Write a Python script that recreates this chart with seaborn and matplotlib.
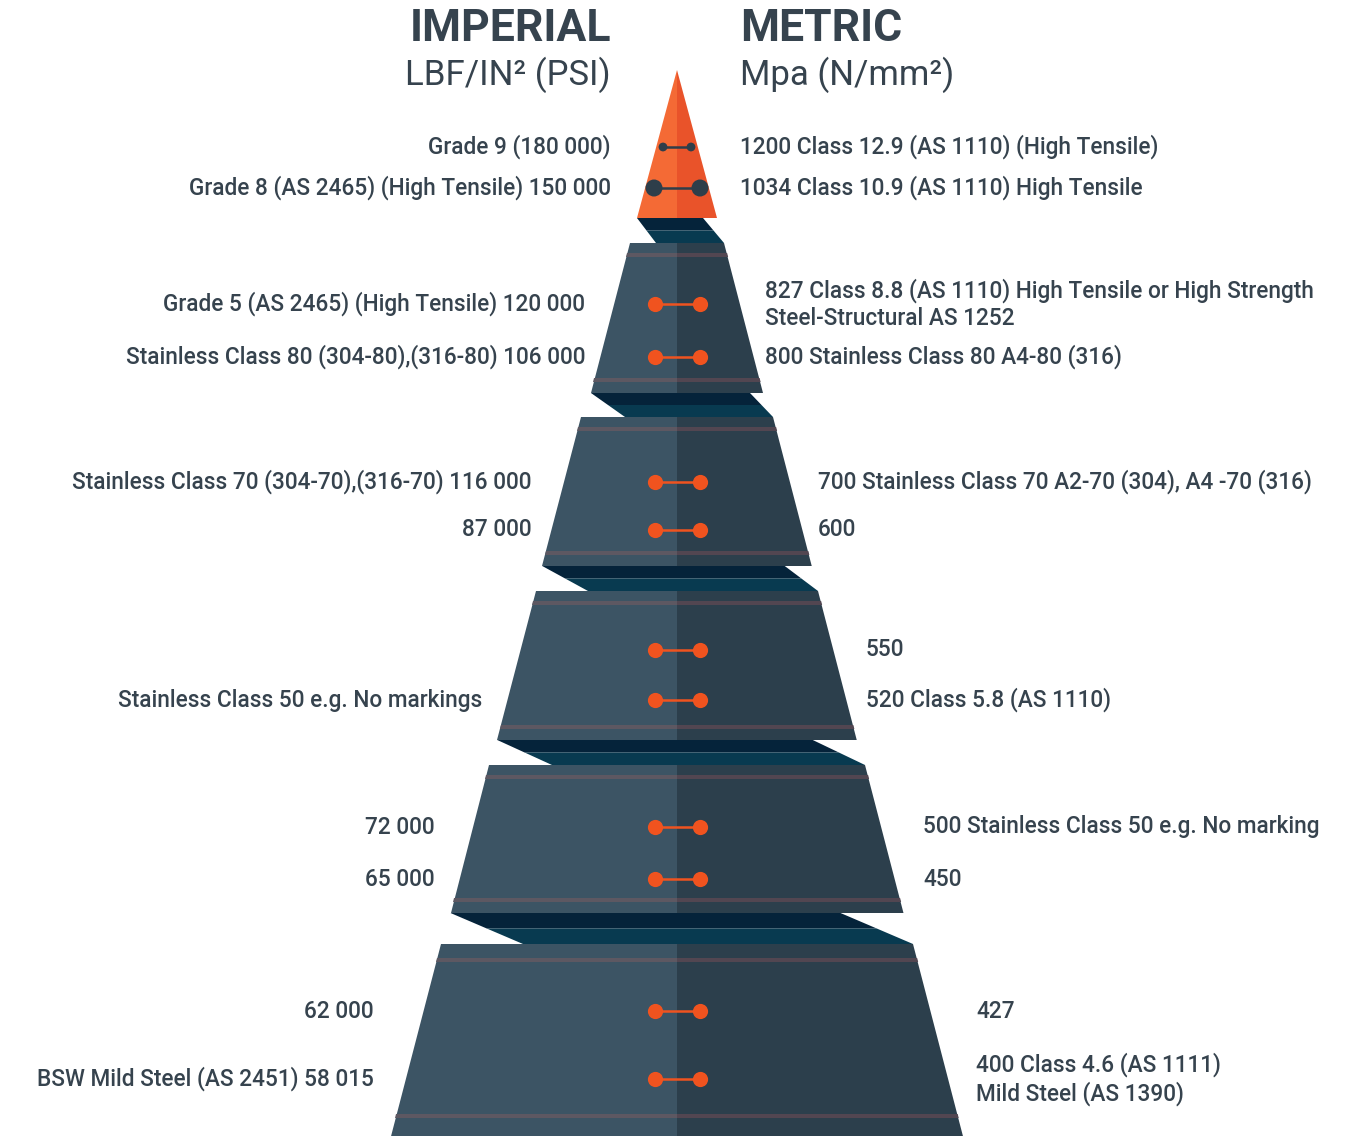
import pandas as pd
import matplotlib.pyplot as plt
import seaborn as sns

sns.set_style("white")
plt.rcParams['font.family'] = ['Roboto', 'DejaVu Sans']

# ============================================================
# DATA
# ============================================================
header_left = "IMPERIAL"
unit_left = "LBF/IN² (PSI)"
header_right = "METRIC"
unit_right = "Mpa (N/mm²)"

imperial_labels = [
    "Grade 9 (180 000)",
    "Grade 8 (AS 2465) (High Tensile) 150 000",
    "Grade 5 (AS 2465) (High Tensile) 120 000",
    "Stainless Class 80 (304-80),(316-80) 106 000",
    "Stainless Class 70 (304-70),(316-70) 116 000",
    "87 000",
    "",
    "Stainless Class 50 e.g. No markings",
    "72 000",
    "65 000",
    "62 000",
    "BSW Mild Steel (AS 2451) 58 015",
]
metric_labels = [
    "1200 Class 12.9 (AS 1110) (High Tensile)",
    "1034 Class 10.9 (AS 1110) High Tensile",
    "827 Class 8.8 (AS 1110) High Tensile or High Strength\nSteel-Structural AS 1252",
    "800 Stainless Class 80 A4-80 (316)",
    "700 Stainless Class 70 A2-70 (304), A4 -70 (316)",
    "600",
    "550",
    "520 Class 5.8 (AS 1110)",
    "500 Stainless Class 50 e.g. No marking",
    "450",
    "427",
    "400 Class 4.6 (AS 1111)\nMild Steel (AS 1390)",
]
row_tier = [0, 0, 1, 1, 2, 2, 3, 3, 4, 4, 5, 5]

# ============================================================
# LAYOUT (pixel space)
# ============================================================
W, H = 1367, 1136
CX = 677
SLOPE = 0.26
apex_y, cone_base_y, cone_half = 70, 218, 40
tier_top = [243, 417, 591, 765, 944]
tier_h = [150, 149, 149, 148, 200]
tier_half = [47, 96, 141, 188, 236]
conn_inset = [14, 13, 27, 44, 63]
conn_offset = [26, 44, 52, 63, 82]
row_offsets = [(77, 118), (61, 114), (65, 113), (59, 109), (62, 114), (67, 135)]
left_x = [611, 585, 532, 482, 435, 374]
right_x = [740, 765, 818, 866, 923, 976]

TEXT = "#36434e"
ORANGE = "#f0531f"
TIER_L, TIER_R = "#3c5464", "#2c3f4c"
STRIPE_L, STRIPE_R = "#5d5862", "#524651"
CONN_TOP, CONN_BOT = "#05233a", "#083a50"
LABEL_SIZE = 16.3

fig = plt.figure(figsize=(W / 100, H / 100), dpi=100)
ax = fig.add_axes([0, 0, 1, 1])

# cone
ax.fill([CX, CX - cone_half, CX], [apex_y, cone_base_y, cone_base_y], color="#f46a35", lw=0)
ax.fill([CX, CX, CX + cone_half], [apex_y, cone_base_y, cone_base_y], color="#e9532a", lw=0)

prev_bottom, prev_half = cone_base_y, cone_half
for i, (yt, h, hw) in enumerate(zip(tier_top, tier_h, tier_half)):
    yb = yt + h
    bw = hw + SLOPE * h
    # connector band
    tl = (CX - prev_half, prev_bottom)
    tr = (CX + prev_half - conn_inset[i], prev_bottom)
    br = (CX + hw, yt)
    bl = (CX - hw + conn_offset[i], yt)
    ym = (prev_bottom + yt) / 2
    ml = ((tl[0] + bl[0]) / 2, ym)
    mr = ((tr[0] + br[0]) / 2, ym)
    ax.fill([tl[0], tr[0], mr[0], ml[0]], [tl[1], tr[1], ym, ym], color=CONN_TOP, lw=0)
    ax.fill([ml[0], mr[0], br[0], bl[0]], [ym, ym, br[1], bl[1]], color=CONN_BOT, lw=0)
    # tier body
    ax.fill([CX - hw, CX, CX, CX - bw], [yt, yt, yb, yb], color=TIER_L, lw=0)
    ax.fill([CX, CX + hw, CX + bw, CX], [yt, yt, yb, yb], color=TIER_R, lw=0)
    # stripes
    stripe_at = [yt + 12, yb - 13] if i < 4 else [yt + 16, yt + 172]
    for ys in stripe_at:
        half = hw + SLOPE * (ys - yt)
        ax.fill([CX - half, CX, CX, CX - half - 1], [ys - 2, ys - 2, ys + 2, ys + 2], color=STRIPE_L, lw=0)
        ax.fill([CX, CX + half, CX + half + 1, CX], [ys - 2, ys - 2, ys + 2, ys + 2], color=STRIPE_R, lw=0)
    prev_bottom, prev_half = yb, bw

# rows: two per tier
row_y = []
for r, t in enumerate(row_tier):
    base = apex_y if t == 0 else tier_top[t - 1]
    row_y.append(base + row_offsets[t][r % 2])

dots = pd.DataFrame({
    "y": row_y * 2,
    "side": ["l"] * len(row_y) + ["r"] * len(row_y),
    "tier": row_tier * 2,
    "row": list(range(len(row_y))) * 2,
})
dots["x"] = [CX - 22.5 if s == "l" else CX + 22.5 for s in dots["side"]]
cone_dots = dots[dots["tier"] == 0].copy()
cone_dots["x"] = [CX - 14 if (s == "l" and r == 0) else CX + 14 if r == 0 else CX - 23 if s == "l" else CX + 23
                  for s, r in zip(cone_dots["side"], cone_dots["row"])]
tier_dots = dots[dots["tier"] > 0]

for r in range(len(row_y)):
    d = cone_dots if r < 2 else tier_dots
    seg = d[d["row"] == r]
    ax.plot(seg["x"], seg["y"], color="#2e3e4a" if r < 2 else ORANGE, lw=1.8, zorder=3)

sns.scatterplot(data=tier_dots, x="x", y="y", color=ORANGE, s=120, linewidth=0, ax=ax, zorder=4)
sns.scatterplot(data=cone_dots, x="x", y="y", size="row", sizes={0: 40, 1: 150},
                color="#2e3e4a", linewidth=0, ax=ax, zorder=4, legend=False)
ax.set_xlim(0, W)
ax.set_ylim(H, 0)
ax.axis("off")

# labels
for r, (lt, rt) in enumerate(zip(imperial_labels, metric_labels)):
    t = row_tier[r]
    ax.text(left_x[t], row_y[r], lt, ha="right", va="center", fontsize=LABEL_SIZE,
            fontweight="medium", color=TEXT, linespacing=1.2)
    ax.text(right_x[t], row_y[r], rt, ha="left", va="center", fontsize=LABEL_SIZE,
            fontweight="medium", color=TEXT, linespacing=1.2)

# headers
ax.text(611, 29, header_left, ha="right", va="center", fontsize=32, fontweight="bold", color=TEXT)
ax.text(611, 75, unit_left, ha="right", va="center", fontsize=25, color=TEXT)
ax.text(740, 29, header_right, ha="left", va="center", fontsize=32, fontweight="bold", color=TEXT)
ax.text(740, 75, unit_right, ha="left", va="center", fontsize=25, color=TEXT)

plt.savefig("out.png", dpi=100)
